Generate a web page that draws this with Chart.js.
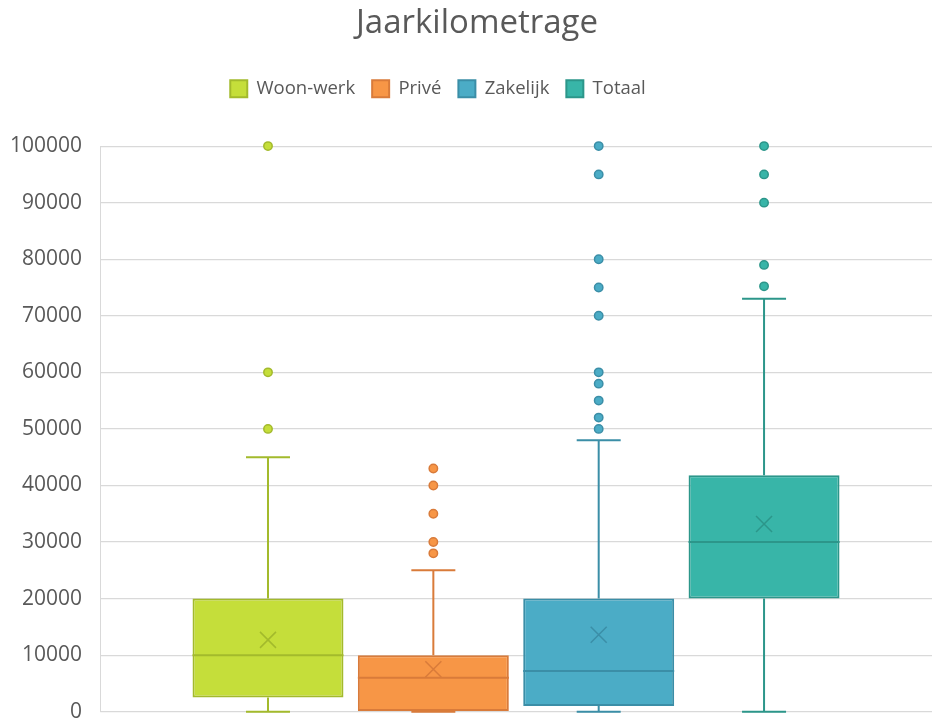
<!DOCTYPE html>
<html>
<head>
<meta charset="utf-8">
<script src="https://cdn.jsdelivr.net/npm/chart.js@4/dist/chart.umd.min.js"></script>
<style>
  html, body { margin: 0; padding: 0; background: #fff; }
  #wrap { width: 932px; height: 718px; }
</style>
</head>
<body>
<div id="wrap"><canvas id="chart"></canvas></div>
<script>
const categories = ['Woon-werk', 'Privé', 'Zakelijk', 'Totaal'];
const whiskerLow = [0, 0, 0, 0];
const quartile1 = [2500, 0, 1000, 20000];
const medians = [10000, 6000, 7200, 30000];
const quartile3 = [20000, 10000, 20000, 41800];
const whiskerHigh = [45000, 25000, 48000, 73000];
const means = [12700, 7500, 13600, 33200];
const outliers = [
  [50000, 60000, 100000],
  [28000, 30000, 35000, 40000, 43000],
  [50000, 52000, 55000, 58000, 60000, 70000, 75000, 80000, 95000, 100000],
  [75200, 79000, 90000, 95000, 100000]
];
const yTicks = [0, 10000, 20000, 30000, 40000, 50000, 60000, 70000, 80000, 90000, 100000];

const fills = ['#c5de3a', '#f79646', '#4bacc6', '#38b5a8'];
const strokes = ['#a3ba2c', '#d97b3a', '#3b8ea7', '#2c968a'];
const textColor = '#595959';

// extra room under the legend; nudge title and legend sideways like the original
const legendSpace = {
  id: 'legendSpace',
  beforeInit(chart) {
    const fit = chart.legend.fit;
    chart.legend.fit = function () {
      fit.bind(chart.legend)();
      this.height += 38;
    };
  },
  afterLayout(chart) {
    chart.legend.left -= 33;
    chart.legend.right -= 33;
    chart.titleBlock.left += 6;
    chart.titleBlock.right += 6;
  }
};

// whiskers, median, mean cross and outlier dots on top of the floating bars
const boxExtras = {
  id: 'boxExtras',
  afterDatasetsDraw(chart) {
    const ctx = chart.ctx;
    const y = chart.scales.y;
    chart.data.datasets.forEach((ds, i) => {
      const bar = chart.getDatasetMeta(i).data[0];
      if (!bar) return;
      const cx = bar.x;
      const half = bar.width / 2;
      const cap = 22;
      ctx.save();
      ctx.strokeStyle = strokes[i];
      ctx.lineWidth = 2;
      ctx.beginPath();
      ctx.moveTo(cx, y.getPixelForValue(quartile3[i]));
      ctx.lineTo(cx, y.getPixelForValue(whiskerHigh[i]));
      ctx.moveTo(cx - cap, y.getPixelForValue(whiskerHigh[i]));
      ctx.lineTo(cx + cap, y.getPixelForValue(whiskerHigh[i]));
      if (quartile1[i] > whiskerLow[i]) {
        ctx.moveTo(cx, y.getPixelForValue(quartile1[i]));
        ctx.lineTo(cx, y.getPixelForValue(whiskerLow[i]));
      }
      ctx.moveTo(cx - cap, y.getPixelForValue(whiskerLow[i]));
      ctx.lineTo(cx + cap, y.getPixelForValue(whiskerLow[i]));
      // median
      ctx.moveTo(cx - half, y.getPixelForValue(medians[i]));
      ctx.lineTo(cx + half, y.getPixelForValue(medians[i]));
      ctx.stroke();
      // mean cross
      const my = y.getPixelForValue(means[i]);
      const s = 8;
      ctx.lineWidth = 1.5;
      ctx.beginPath();
      ctx.moveTo(cx - s, my - s); ctx.lineTo(cx + s, my + s);
      ctx.moveTo(cx + s, my - s); ctx.lineTo(cx - s, my + s);
      ctx.stroke();
      // outliers
      ctx.fillStyle = fills[i];
      ctx.lineWidth = 1.5;
      outliers[i].forEach(v => {
        ctx.beginPath();
        ctx.arc(cx, y.getPixelForValue(v), 4.2, 0, Math.PI * 2);
        ctx.fill();
        ctx.stroke();
      });
      ctx.restore();
    });
  }
};

new Chart(document.getElementById('chart'), {
  type: 'bar',
  data: {
    labels: [''],
    datasets: categories.map((name, i) => ({
      label: name,
      data: [[quartile1[i], quartile3[i]]],
      backgroundColor: fills[i],
      borderColor: strokes[i],
      borderWidth: 2,
      borderSkipped: false
    }))
  },
  options: {
    responsive: true,
    maintainAspectRatio: false,
    animation: false,
    categoryPercentage: 0.795,
    barPercentage: 0.913,
    layout: { padding: { left: 10, right: 0, top: 0, bottom: 0 } },
    plugins: {
      title: {
        display: true,
        text: 'Jaarkilometrage',
        color: textColor,
        font: { family: 'Open Sans', size: 33, weight: 'normal' },
        padding: { top: 4, bottom: 19 }
      },
      legend: {
        position: 'top',
        labels: {
          color: textColor,
          font: { family: 'Open Sans', size: 18.5 },
          boxWidth: 17,
          boxHeight: 17,
          padding: 17
        }
      },
      tooltip: { enabled: false }
    },
    scales: {
      x: { display: false },
      y: {
        min: 0,
        max: 100000,
        afterBuildTicks: axis => { axis.ticks = yTicks.map(v => ({ value: v })); },
        grid: { color: '#d9d9d9', lineWidth: 1.2, drawTicks: true, tickLength: 18, tickColor: 'rgba(0,0,0,0)' },
        border: { display: true, color: '#d9d9d9' },
        ticks: {
          color: textColor,
          padding: 0,
          font: { family: 'Open Sans', size: 21, lineHeight: 0.6 },
          callback: v => String(v)
        }
      }
    }
  },
  plugins: [legendSpace, boxExtras]
});
</script>
</body>
</html>
